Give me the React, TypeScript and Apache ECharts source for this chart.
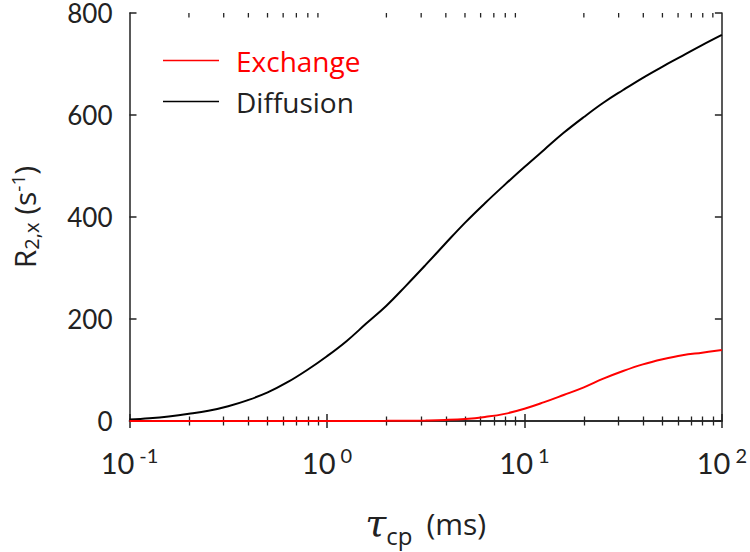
import React, { useEffect, useRef } from "react";
import * as echarts from "echarts";

const tauValues = [0.1, 0.126, 0.158, 0.2, 0.251, 0.316, 0.398, 0.501, 0.631, 0.794, 1, 1.26, 1.58, 2, 2.51, 3.16, 3.98, 5.01, 6.31, 7.94, 10, 12.6, 15.8, 20, 25.1, 31.6, 39.8, 50.1, 63.1, 79.4, 100];
const diffusionValues = [3, 5.5, 9, 14, 20, 29, 41, 56, 76, 100, 127, 157, 191, 226, 265, 306, 348, 389, 427, 463, 498, 532, 565, 596, 624, 649, 673, 695, 716, 737, 757];
const exchangeValues = [0, 0, 0, 0, 0, 0, 0, 0, 0, 0, 0.1, 0.1, 0.2, 0.3, 0.5, 1, 2, 4, 8, 14, 24, 37, 51, 66, 83, 98, 111, 121, 129, 134, 139];
const minorTickValues = [0.2, 0.3, 0.4, 0.5, 0.6, 0.7, 0.8, 0.9, 2, 3, 4, 5, 6, 7, 8, 9, 20, 30, 40, 50, 60, 70, 80, 90];
const seriesNames = ["Exchange", "Diffusion"];
const seriesColors = ["#ff0000", "#000000"];

const FONT = "Lato";
const FONT2 = "Open Sans";
const TXT = "#222222";

export default function App() {
  const ref = useRef<HTMLDivElement>(null);
  useEffect(() => {
    if (!ref.current) return;
    const chart = echarts.init(ref.current, null, { renderer: "svg" });
    const axisLine = { show: true, lineStyle: { color: "#222", width: 1.5 } };
    const majorTick = { show: true, inside: true, length: 7, lineStyle: { color: "#222", width: 1.5 } };
    const minorTick = { show: true, length: 4.5, splitNumber: 9, lineStyle: { color: "#222", width: 1.3 } };
    const option: any = {
      animation: false,
      backgroundColor: "#ffffff",
      textStyle: { fontFamily: FONT },
      grid: { left: 125, top: 13, right: 28, bottom: 124, containLabel: false },
      legend: {
        show: true,
        orient: "vertical",
        left: 158,
        top: 40,
        icon: "rect",
        itemWidth: 56,
        itemHeight: 1.6,
        itemGap: 10,
        textStyle: { fontFamily: FONT2, fontSize: 28, lineHeight: 31, padding: [0, 0, 0, 12] },
        data: [
          { name: seriesNames[0], textStyle: { color: seriesColors[0] } },
          { name: seriesNames[1], textStyle: { color: TXT } },
        ],
      },
      xAxis: [
        {
          type: "log",
          logBase: 10,
          min: 0.1,
          max: 100,
          position: "bottom",
          axisLine,
          axisTick: majorTick,
          minorTick,
          splitLine: { show: false },
          minorSplitLine: { show: false },
          axisLabel: {
            margin: 24,
            formatter: (v: number) => {
              const e = Math.round(Math.log10(v));
              return `{b|10}{s|${e}}`;
            },
            rich: {
              b: { fontFamily: FONT, fontSize: 29, color: TXT },
              s: { fontFamily: FONT, fontSize: 20, color: TXT, padding: [0, 0, 14, 5] },
            },
          },
          name: "{t|τ}{sub|cp}{m|(ms)}",
          nameLocation: "middle",
          nameGap: 78,
          nameTextStyle: {
            rich: {
              t: { fontFamily: "DejaVu Serif", fontStyle: "italic", fontSize: 38, color: TXT },
              sub: { fontFamily: FONT2, fontSize: 24, color: TXT, padding: [24, 0, 0, 0] },
              m: { fontFamily: FONT2, fontSize: 30, color: TXT, padding: [0, 0, 0, 14] },
            },
          },
        },
        {
          type: "log",
          logBase: 10,
          min: 0.1,
          max: 100,
          position: "top",
          axisLine,
          axisTick: majorTick,
          minorTick,
          axisLabel: { show: false },
          splitLine: { show: false },
          minorSplitLine: { show: false },
        },
      ],
      yAxis: [
        {
          type: "value",
          min: 0,
          max: 800,
          interval: 200,
          position: "left",
          axisLine,
          axisTick: majorTick,
          splitLine: { show: false },
          axisLabel: { margin: 17, fontFamily: FONT, fontSize: 26, lineHeight: 18, color: TXT },
          name: "{m|R}{sub|2,x}{m| (s}{sup|-1}{m|)}",
          nameLocation: "middle",
          nameRotate: 90,
          nameGap: 88,
          nameTextStyle: {
            rich: {
              m: { fontFamily: FONT2, fontSize: 30, color: TXT },
              sub: { fontFamily: FONT2, fontSize: 20, color: TXT, padding: [14, 0, 0, 0] },
              sup: { fontFamily: FONT2, fontSize: 19, color: TXT, padding: [0, 0, 14, 0] },
            },
          },
        },
        {
          type: "value",
          min: 0,
          max: 800,
          interval: 200,
          position: "right",
          axisLine,
          axisTick: majorTick,
          splitLine: { show: false },
          axisLabel: { show: false },
        },
      ],
      series: [
        {
          name: seriesNames[1],
          type: "line",
          xAxisIndex: 0,
          yAxisIndex: 0,
          data: tauValues.map((t, i) => [t, diffusionValues[i]]),
          smooth: 0.4,
          showSymbol: false,
          symbol: "none",
          clip: false,
          lineStyle: { color: seriesColors[1], width: 2 },
          itemStyle: { color: seriesColors[1] },
          z: 3,
        },
        {
          name: seriesNames[0],
          type: "line",
          xAxisIndex: 0,
          yAxisIndex: 0,
          data: tauValues.map((t, i) => [t, exchangeValues[i]]),
          smooth: 0.4,
          showSymbol: false,
          symbol: "none",
          clip: false,
          lineStyle: { color: seriesColors[0], width: 2 },
          itemStyle: { color: seriesColors[0] },
          z: 4,
        },
        {
          name: "topMinorTicks",
          type: "custom",
          xAxisIndex: 0,
          yAxisIndex: 0,
          silent: true,
          clip: false,
          encode: { x: 0, y: 1 },
          data: minorTickValues.map((v) => [v, 800]),
          renderItem: (params: any, api: any) => {
            const pt = api.coord([api.value(0), 800]);
            return {
              type: "line",
              shape: { x1: pt[0], y1: pt[1], x2: pt[0], y2: pt[1] + 4.5 },
              style: { stroke: "#222", lineWidth: 1.3 },
            };
          },
          z: 5,
        },
      ],
    };
    chart.setOption(option);
    return () => chart.dispose();
  }, []);
  return (
    <div
      ref={ref}
      style={{ position: "absolute", left: 0, top: 0, width: 750, height: 552 }}
    />
  );
}
